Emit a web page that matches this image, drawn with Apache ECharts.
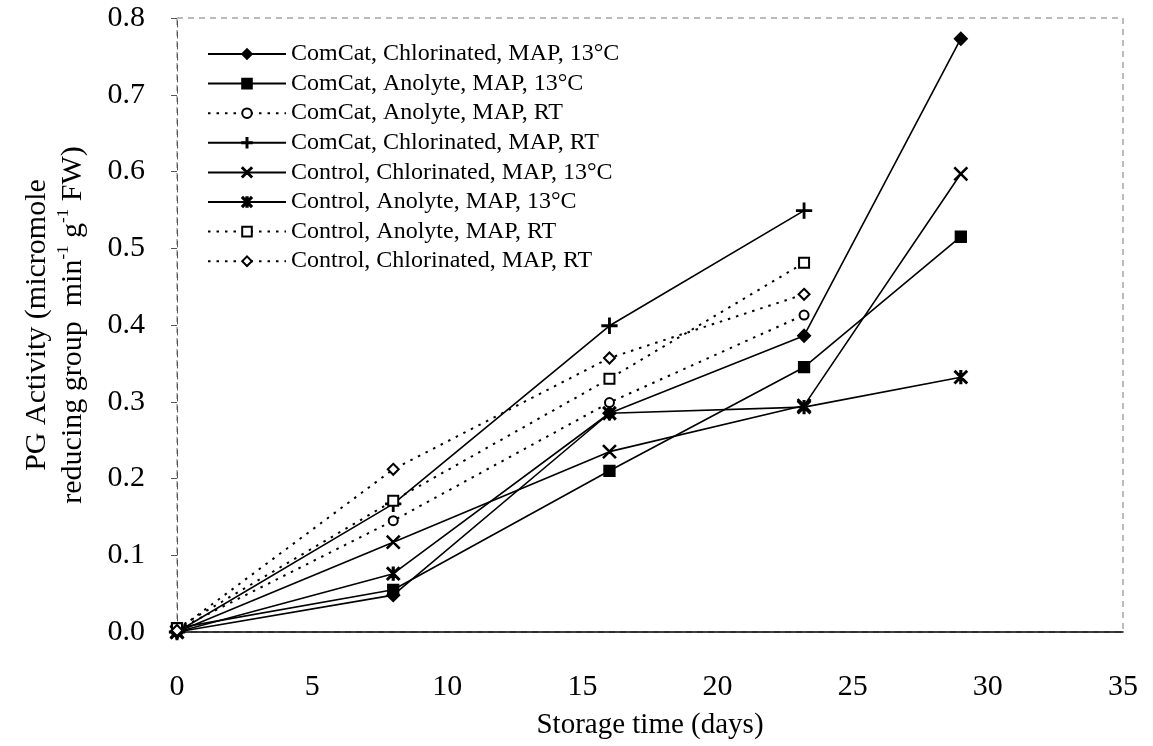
<!DOCTYPE html>
<html>
<head>
<meta charset="utf-8">
<script src="https://cdn.jsdelivr.net/npm/echarts@6/dist/echarts.min.js"></script>
<style>
  html, body { margin: 0; padding: 0; background: #fff; }
  #chart { width: 1153px; height: 746px; }
</style>
</head>
<body>
<div id="chart"></div>
<script>
// Storage days at which PG activity was sampled
const days = [0, 8, 16, 23.2, 29];

// PG activity (micromole reducing group min-1 g-1 FW) per treatment
const comcatChlor13 = [0, 0.048, 0.285, 0.386, 0.773];
const comcatAnol13 = [0.005, 0.055, 0.210, 0.345, 0.515];
const comcatAnolRT = [0.003, 0.145, 0.299, 0.413];
const comcatChlorRT = [0, 0.167, 0.399, 0.549];
const controlChlor13 = [0, 0.117, 0.235, 0.295, 0.597];
const controlAnol13 = [0, 0.076, 0.285, 0.293, 0.332];
const controlAnolRT = [0.005, 0.171, 0.330, 0.481];
const controlChlorRT = [0.002, 0.212, 0.357, 0.440];

const seriesNames = [
  'ComCat, Chlorinated, MAP, 13°C',
  'ComCat, Anolyte, MAP, 13°C',
  'ComCat, Anolyte, MAP, RT',
  'ComCat, Chlorinated, MAP, RT',
  'Control, Chlorinated, MAP, 13°C',
  'Control, Anolyte, MAP, 13°C',
  'Control, Anolyte, MAP, RT',
  'Control, Chlorinated, MAP, RT'
];

const xTicks = { min: 0, max: 35, step: 5 };
const yTicks = { min: 0, max: 0.8, step: 0.1 };

// Marker shapes
const PLUS = 'path://M4.5,0H5.5V10H4.5Z M0,4.5H10V5.5H0Z';
const CROSS = 'path://M0,0.7L0.7,0L10,9.3L9.3,10Z M9.3,0L10,0.7L0.7,10L0,9.3Z';
const ASTER = 'path://M0,0.9L0.9,0L10,9.1L9.1,10Z M9.1,0L10,0.9L0.9,10L0,9.1Z M4.3,0H5.7V10H4.3Z';

const FONT = '"Liberation Serif", "Times New Roman", serif';

function pairs(vals) {
  return vals.map((v, i) => [days[i], v]);
}

const solid = { color: '#000', width: 1.6, type: 'solid' };
const dotted = { color: '#000', width: 2, type: [2.5, 6] };

const styles = [
  { data: comcatChlor13, symbol: 'diamond', size: 13, line: solid },
  { data: comcatAnol13, symbol: 'rect', size: 11, line: solid },
  { data: comcatAnolRT, symbol: 'emptyCircle', size: 9, line: dotted },
  { data: comcatChlorRT, symbol: PLUS, size: 15, line: solid },
  { data: controlChlor13, symbol: CROSS, size: 13, line: solid },
  { data: controlAnol13, symbol: ASTER, size: 13, line: solid },
  { data: controlAnolRT, symbol: 'emptyRect', size: 10, line: dotted },
  { data: controlChlorRT, symbol: 'emptyDiamond', size: 11, line: dotted }
];

const series = styles.map((s, i) => ({
  name: seriesNames[i],
  type: 'line',
  data: pairs(s.data),
  symbol: s.symbol,
  symbolSize: s.size,
  showAllSymbol: true,
  lineStyle: s.line,
  itemStyle: { color: '#000', borderColor: '#000', borderWidth: 1.3 },
  emphasis: { disabled: true },
  animation: false,
  z: 3
}));

const chart = echarts.init(document.getElementById('chart'), null, { renderer: 'canvas' });

chart.setOption({
  backgroundColor: '#fff',
  animation: false,
  grid: {
    left: 177, right: 30, top: 18, bottom: 114,
    containLabel: false,
    outerBoundsMode: 'none',
    show: true,
    borderColor: '#777',
    borderWidth: 1,
    borderType: [6, 5]
  },
  legend: {
    orient: 'vertical',
    left: 202,
    top: 37,
    itemWidth: 78,
    itemHeight: 12,
    itemGap: 5.6,
    data: seriesNames,
    textStyle: {
      fontFamily: FONT,
      fontSize: 24,
      lineHeight: 24,
      color: '#000'
    },
    selectedMode: false
  },
  xAxis: {
    type: 'value',
    min: xTicks.min,
    max: xTicks.max,
    interval: xTicks.step,
    name: 'Storage time (days)',
    nameLocation: 'middle',
    nameGap: 79,
    nameTextStyle: { fontFamily: FONT, fontSize: 29, color: '#000' },
    axisLine: { show: true, onZero: false, lineStyle: { color: '#000', width: 1.5 } },
    axisTick: { show: false },
    axisLabel: { fontFamily: FONT, fontSize: 30, color: '#000', margin: 40 },
    splitLine: { show: false }
  },
  yAxis: {
    type: 'value',
    min: yTicks.min,
    max: yTicks.max,
    interval: yTicks.step,
    name: 'PG Activity (micromole\nreducing group  min{sup|-1} g{sup|-1} FW)',
    nameLocation: 'middle',
    nameRotate: 90,
    nameGap: 86,
    nameTextStyle: {
      fontFamily: FONT,
      fontSize: 30,
      lineHeight: 36,
      color: '#000',
      rich: {
        sup: {
          fontFamily: FONT,
          fontSize: 17,
          lineHeight: 36,
          verticalAlign: 'top',
          color: '#000',
          padding: [0, 0, 14, 0]
        }
      }
    },
    axisLine: { show: true, lineStyle: { color: '#555', width: 1, type: [6, 5] } },
    axisTick: { show: true, inside: false, length: 6, lineStyle: { color: '#555' } },
    axisLabel: {
      fontFamily: FONT, fontSize: 30, color: '#000', margin: 32,
      formatter: v => v.toFixed(1)
    },
    splitLine: { show: false }
  },
  series: series
});
</script>
</body>
</html>
